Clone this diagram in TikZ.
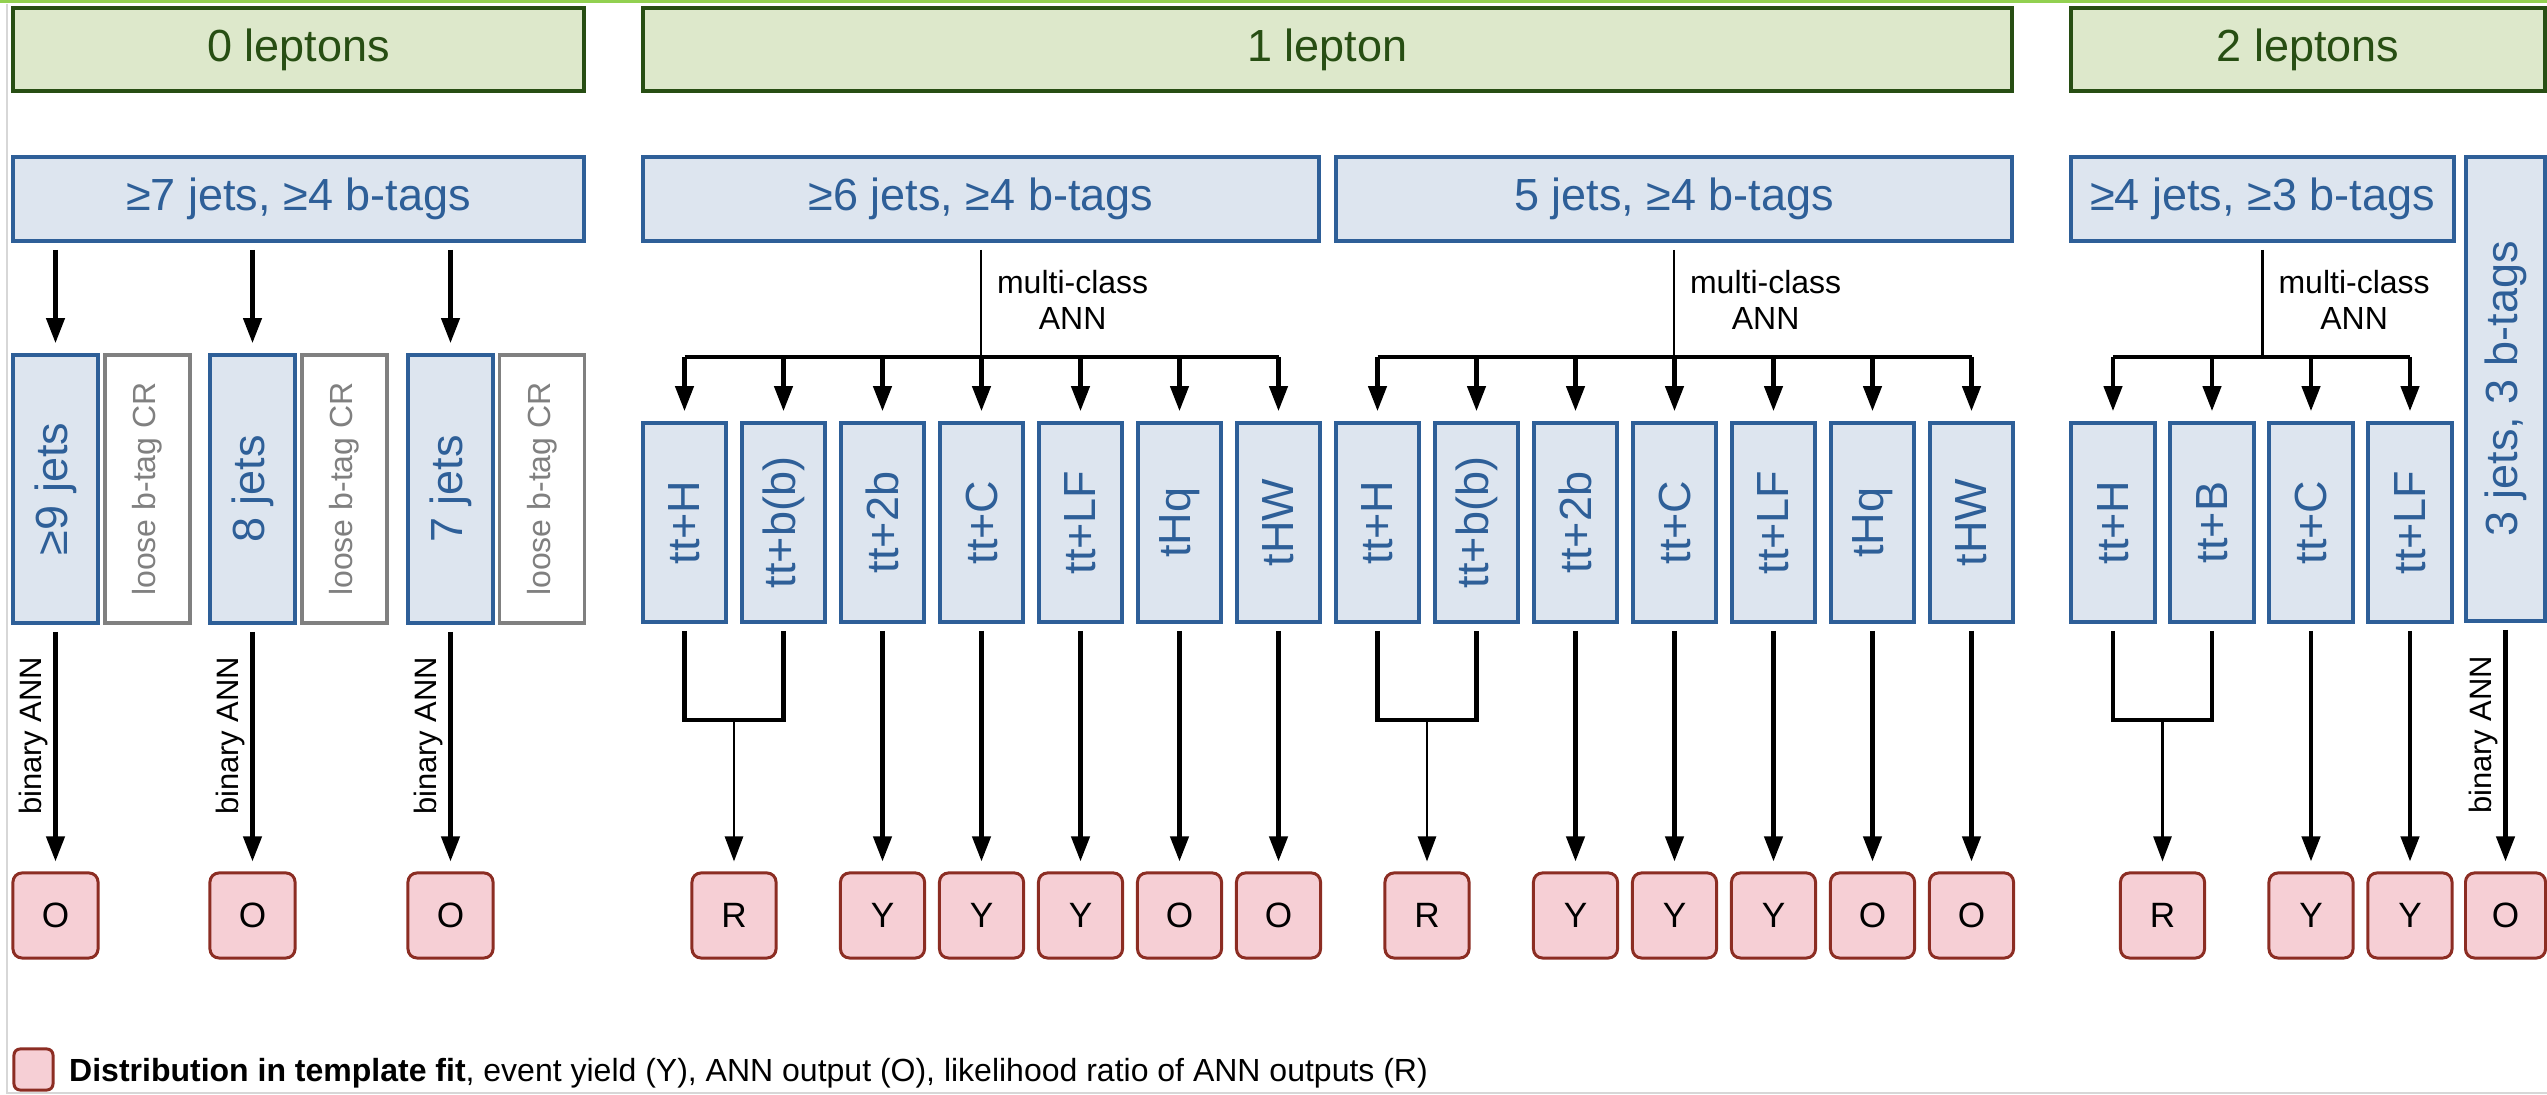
\documentclass[tikz,border=0pt]{standalone}
\usepackage{fontspec}
\usepackage{graphicx}
\setmainfont{Liberation Sans}
\usetikzlibrary{arrows.meta,positioning}

\definecolor{hdrfill}{RGB}{221,232,203}
\definecolor{hdrline}{RGB}{39,78,19}
\definecolor{catfill}{RGB}{221,229,239}
\definecolor{catline}{RGB}{46,95,152}
\definecolor{loosegray}{RGB}{128,128,128}
\definecolor{outfill}{RGB}{246,207,213}
\definecolor{outline}{RGB}{140,45,35}
\definecolor{topgreen}{RGB}{146,208,80}
\definecolor{edgegray}{RGB}{215,215,215}

\tikzset{
  big/.style={font=\fontsize{12.8}{15}\selectfont},
  hdr/.style={big, draw=hdrline, fill=hdrfill, text=hdrline, line width=1.1pt,
    minimum height=0.83cm, inner sep=0pt},
  jet/.style={big, draw=catline, fill=catfill, text=catline, line width=1pt,
    minimum height=0.84cm, inner sep=0pt},
  cat/.style={jet, minimum width=0.83cm, minimum height=1.99cm},
  loose/.style={draw=loosegray, fill=white, text=loosegray, line width=1pt,
    minimum width=0.85cm, minimum height=2.68cm, inner sep=0pt,
    font=\fontsize{9.1}{11}\selectfont},
  outbox/.style={draw=outline, fill=outfill, line width=0.85pt, rounded corners=0.09cm,
    minimum width=0.84cm, minimum height=0.85cm, inner sep=0pt,
    font=\fontsize{10}{12}\selectfont},
  arr/.style={-{Triangle[width=1.8mm,length=2.5mm]}, line width=1.2pt, shorten >=1mm},
  thinarr/.style={arr, line width=0.75pt},
  fromgap/.style={shorten <=0.7mm},
  link/.style={line width=1.2pt, shorten <=0.7mm, shorten >=0.7mm},
  trunk/.style={line width=0.6pt, shorten <=0.7mm},
  fanbar/.style={line width=1pt},
  lbl/.style={rotate=90, anchor=south, inner sep=1.5pt, font=\fontsize{8.8}{10}\selectfont},
  mc/.style={align=center, inner sep=0pt, xshift=0.15cm, font=\fontsize{9.1}{10.5}\selectfont}
}

\begin{document}
\begin{tikzpicture}[x=0.01cm, y=-0.01cm]
\useasboundingbox (0,0) rectangle (2547,1095);
\draw[topgreen, line width=0.85pt] (0,1.5) -- (2547,1.5);
\draw[edgegray, line width=0.4pt] (7,4) -- (7,1093) -- (2547,1093);

% lepton channels
\node[hdr, minimum width=5.71cm] (h0) at (298.5,49.5) {0 leptons};
\node[hdr, minimum width=13.69cm] (h1) at (1327.5,49.5) {1 lepton};
\node[hdr, minimum width=4.74cm] (h2) at (2308,49.5) {2 leptons};

% jet / b-tag selections
\node[jet, minimum width=5.71cm] (j0) at (298.5,199) {≥7 jets, ≥4 b-tags};
\node[jet, minimum width=6.76cm] (j6) at (981,199) {≥6 jets, ≥4 b-tags};
\node[jet, minimum width=6.76cm] (j5) at (1674,199) {5 jets, ≥4 b-tags};
\node[jet, minimum width=3.83cm] (j4) at (2262.5,199) {≥4 jets, ≥3 b-tags};
\node[jet, minimum width=0.79cm, minimum height=4.64cm] (j3) at (2505.5,389) {\rotatebox{90}{3 jets, 3 b-tags}};

% 0 leptons categories
\node[cat, minimum width=0.85cm, minimum height=2.68cm] (c9) at (55.5,489) {\rotatebox{90}{≥9 jets}};
\node[loose] (l9) at (147.5,489) {\rotatebox{90}{loose b-tag CR}};
\node[cat, minimum width=0.85cm, minimum height=2.68cm] (c8) at (252.5,489) {\rotatebox{90}{8 jets}};
\node[loose] (l8) at (344.5,489) {\rotatebox{90}{loose b-tag CR}};
\node[cat, minimum width=0.85cm, minimum height=2.68cm] (c7) at (450.5,489) {\rotatebox{90}{7 jets}};
\node[loose] (l7) at (542,489) {\rotatebox{90}{loose b-tag CR}};

% 1 lepton, >=6 jets
\node[cat] (a1) at (684.5,522.5) {\rotatebox{90}{tt+H}};
\node[cat] (a2) at (783.5,522.5) {\rotatebox{90}{tt+b(b)}};
\node[cat] (a3) at (882.5,522.5) {\rotatebox{90}{tt+2b}};
\node[cat] (a4) at (981.5,522.5) {\rotatebox{90}{tt+C}};
\node[cat] (a5) at (1080.5,522.5) {\rotatebox{90}{tt+LF}};
\node[cat] (a6) at (1179.5,522.5) {\rotatebox{90}{tHq}};
\node[cat] (a7) at (1278.5,522.5) {\rotatebox{90}{tHW}};

% 1 lepton, 5 jets
\node[cat] (b1) at (1377.5,522.5) {\rotatebox{90}{tt+H}};
\node[cat] (b2) at (1476.5,522.5) {\rotatebox{90}{tt+b(b)}};
\node[cat] (b3) at (1575.5,522.5) {\rotatebox{90}{tt+2b}};
\node[cat] (b4) at (1674.5,522.5) {\rotatebox{90}{tt+C}};
\node[cat] (b5) at (1773.5,522.5) {\rotatebox{90}{tt+LF}};
\node[cat] (b6) at (1872.5,522.5) {\rotatebox{90}{tHq}};
\node[cat] (b7) at (1971.5,522.5) {\rotatebox{90}{tHW}};

% 2 leptons
\node[cat, minimum width=0.84cm] (d1) at (2113,522.5) {\rotatebox{90}{tt+H}};
\node[cat, minimum width=0.84cm] (d2) at (2212,522.5) {\rotatebox{90}{tt+B}};
\node[cat, minimum width=0.84cm] (d3) at (2311,522.5) {\rotatebox{90}{tt+C}};
\node[cat, minimum width=0.84cm] (d4) at (2410,522.5) {\rotatebox{90}{tt+LF}};

% template fit inputs
\node[outbox, minimum width=0.85cm] (o9) at (55.5,915.5) {O};
\node[outbox, minimum width=0.85cm] (o8) at (252.5,915.5) {O};
\node[outbox, minimum width=0.85cm] (o7) at (450.5,915.5) {O};
\node[outbox] (ra) at (734,915.5) {R};
\node[outbox] (ya3) at (882.5,915.5) {Y};
\node[outbox] (ya4) at (981.5,915.5) {Y};
\node[outbox] (ya5) at (1080.5,915.5) {Y};
\node[outbox] (oa6) at (1179.5,915.5) {O};
\node[outbox] (oa7) at (1278.5,915.5) {O};
\node[outbox] (rb) at (1427,915.5) {R};
\node[outbox] (yb3) at (1575.5,915.5) {Y};
\node[outbox] (yb4) at (1674.5,915.5) {Y};
\node[outbox] (yb5) at (1773.5,915.5) {Y};
\node[outbox] (ob6) at (1872.5,915.5) {O};
\node[outbox] (ob7) at (1971.5,915.5) {O};
\node[outbox] (rd) at (2162.5,915.5) {R};
\node[outbox] (yd3) at (2311,915.5) {Y};
\node[outbox] (yd4) at (2410,915.5) {Y};
\node[outbox, minimum width=0.8cm] (o3) at (2505.5,915.5) {O};

\coordinate (ba) at (981,357);
\coordinate (bb) at (1674,357);
\coordinate (bd) at (2262.5,357);
\coordinate (ka) at (734,720);
\coordinate (kb) at (1427,720);
\coordinate (kd) at (2162.5,720);

% 0 leptons
\path[draw,arr,fromgap] (c9 |- j0.south) -- (c9);
\path[draw,arr,fromgap] (c8 |- j0.south) -- (c8);
\path[draw,arr,fromgap] (c7 |- j0.south) -- (c7);
\path[draw,arr,fromgap] (c9) -- node[lbl,pos=0.45] {binary ANN} (o9);
\path[draw,arr,fromgap] (c8) -- node[lbl,pos=0.45] {binary ANN} (o8);
\path[draw,arr,fromgap] (c7) -- node[lbl,pos=0.45] {binary ANN} (o7);

% 1 lepton, >=6 jets
\path[draw,trunk] (j6) -- node[mc,right] {multi-class\\ANN} (ba);
\path[draw,fanbar] (a1 |- ba) -- (a7 |- ba);
\path[draw,arr] (a1 |- ba) -- (a1);
\path[draw,arr] (a2 |- ba) -- (a2);
\path[draw,arr] (a3 |- ba) -- (a3);
\path[draw,arr] (a4 |- ba) -- (a4);
\path[draw,arr] (a5 |- ba) -- (a5);
\path[draw,arr] (a6 |- ba) -- (a6);
\path[draw,arr] (a7 |- ba) -- (a7);
\path[draw,link] (a1) -- (a1 |- ka) -- (a2 |- ka) -- (a2);
\path[draw,thinarr] (ka) -- (ra);
\path[draw,arr,fromgap] (a3) -- (ya3);
\path[draw,arr,fromgap] (a4) -- (ya4);
\path[draw,arr,fromgap] (a5) -- (ya5);
\path[draw,arr,fromgap] (a6) -- (oa6);
\path[draw,arr,fromgap] (a7) -- (oa7);

% 1 lepton, 5 jets
\path[draw,trunk] (j5) -- node[mc,right] {multi-class\\ANN} (bb);
\path[draw,fanbar] (b1 |- bb) -- (b7 |- bb);
\path[draw,arr] (b1 |- bb) -- (b1);
\path[draw,arr] (b2 |- bb) -- (b2);
\path[draw,arr] (b3 |- bb) -- (b3);
\path[draw,arr] (b4 |- bb) -- (b4);
\path[draw,arr] (b5 |- bb) -- (b5);
\path[draw,arr] (b6 |- bb) -- (b6);
\path[draw,arr] (b7 |- bb) -- (b7);
\path[draw,link] (b1) -- (b1 |- kb) -- (b2 |- kb) -- (b2);
\path[draw,thinarr] (kb) -- (rb);
\path[draw,arr,fromgap] (b3) -- (yb3);
\path[draw,arr,fromgap] (b4) -- (yb4);
\path[draw,arr,fromgap] (b5) -- (yb5);
\path[draw,arr,fromgap] (b6) -- (ob6);
\path[draw,arr,fromgap] (b7) -- (ob7);

% 2 leptons
\path[draw,trunk] (j4) -- node[mc,right] {multi-class\\ANN} (bd);
\path[draw,fanbar] (d1 |- bd) -- (d4 |- bd);
\path[draw,arr] (d1 |- bd) -- (d1);
\path[draw,arr] (d2 |- bd) -- (d2);
\path[draw,arr] (d3 |- bd) -- (d3);
\path[draw,arr] (d4 |- bd) -- (d4);
\path[draw,link] (d1) -- (d1 |- kd) -- (d2 |- kd) -- (d2);
\path[draw,thinarr] (kd) -- (rd);
\path[draw,arr,fromgap] (d3) -- (yd3);
\path[draw,arr,fromgap] (d4) -- (yd4);
\path[draw,arr,fromgap] (j3) -- node[lbl,pos=0.45] {binary ANN} (o3);

% legend
\node[outbox, minimum width=0.39cm, minimum height=0.41cm, rounded corners=0.06cm] (key) at (33.5,1069.5) {};
\node[right=0.14cm of key, yshift=-0.04cm, inner sep=0pt, font=\fontsize{9.1}{11}\selectfont] (keytext)
  {\textbf{Distribution in template fit}, event yield (Y), ANN output (O), likelihood ratio of ANN outputs (R)};
\end{tikzpicture}
\end{document}
